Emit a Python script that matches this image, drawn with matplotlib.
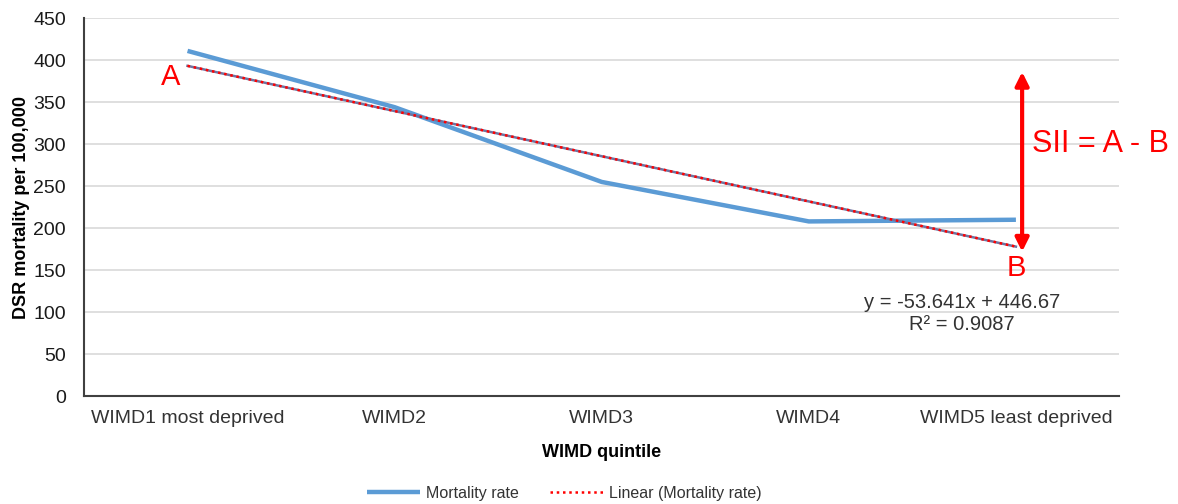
import matplotlib.pyplot as plt
import numpy as np

plt.rcParams['font.family'] = ['Liberation Sans', 'DejaVu Sans']

# Datos
quintiles = ["WIMD1 most deprived", "WIMD2", "WIMD3", "WIMD4", "WIMD5 least deprived"]
mortality = [411, 344, 255, 208, 210]

# Colores
col_line = "#5b9bd5"
col_red = "#ff0000"
col_grid = "#d9d9d9"
col_text = "#404040"

fig = plt.figure(figsize=(11.78, 5.04), dpi=100)
ax = fig.add_axes([0.0713, 0.214, 0.879, 0.750])

x = np.arange(len(quintiles))
ax.plot(x, mortality, color=col_line, lw=3.2, solid_capstyle="butt",
        label="Mortality rate", zorder=3)

# Línea de tendencia (regresión sobre 1..5, como Excel)
slope, intercept = np.polyfit(x + 1, mortality, 1)
trend = slope * (x + 1) + intercept
ax.plot(x, trend, color="#6f74a0", lw=1.8, zorder=4)
ax.plot(x, trend, color=col_red, lw=1.8, ls=(0, (1, 1.5)),
        label="Linear (Mortality rate)", zorder=5)

ax.set_xlim(-0.5, 4.5)
ax.set_ylim(0, 450)
ax.set_yticks(np.arange(0, 451, 50))
ax.set_xticks(x)
ax.set_xticklabels(quintiles)
ax.tick_params(length=0, labelsize=14, labelcolor="#1a1a1a")
ax.tick_params(axis="y", pad=13)
ax.tick_params(axis="x", pad=10, labelcolor="#333333")
ax.grid(axis="y", color=col_grid, lw=1.2)
ax.set_axisbelow(True)
for s in ["top", "right"]:
    ax.spines[s].set_visible(False)
ax.spines["left"].set_color("#404040")
ax.spines["bottom"].set_color("#404040")
ax.spines["left"].set_linewidth(1.5)
ax.spines["bottom"].set_linewidth(1.5)

ax.set_ylabel("DSR mortality per 100,000", fontsize=13, fontweight="bold",
              color="#000000", labelpad=2)
ax.set_xlabel("WIMD quintile", fontsize=13, fontweight="bold",
              color="#000000", labelpad=12)

# Anotaciones
ax.text(-0.08, 380, "A", color=col_red, fontsize=21, ha="center", va="center")
ax.text(4.0, 152, "B", color=col_red, fontsize=21, ha="center", va="center")
ax.annotate("", xy=(4.03, 386), xytext=(4.03, 172),
            arrowprops=dict(arrowstyle="<|-|>", color=col_red, lw=3,
                            mutation_scale=20, shrinkA=0, shrinkB=0))
ax.text(4.08, 300, "SII = A - B", color=col_red, fontsize=22,
        ha="left", va="center", clip_on=False)
ax.text(3.74, 98, "y = -53.641x + 446.67\nR\u00b2 = 0.9087", color="#333333",
        fontsize=14.5, ha="center", va="center", linespacing=1.2)

fig.legend(loc="lower center", bbox_to_anchor=(0.479, -0.022), ncol=2,
           frameon=False, fontsize=11.5, handlelength=3.3, handletextpad=0.35,
           columnspacing=2.0, labelcolor="#333333")

fig.savefig("out.png", dpi=100)
